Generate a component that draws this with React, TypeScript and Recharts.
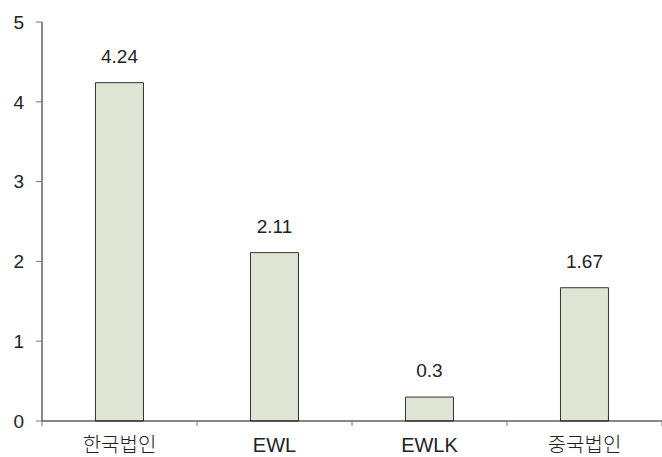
import { Bar, BarChart, LabelList, XAxis, YAxis } from "recharts";

const categories = ["한국법인", "EWL", "EWLK", "중국법인"];
const values = [4.24, 2.11, 0.3, 1.67];
const yTicks = [0, 1, 2, 3, 4, 5];

const FONT = '"Liberation Sans", "Noto Sans CJK KR", Arial, sans-serif';

const data = categories.map((name, i) => ({ name, value: values[i] }));

// category labels plus a short tick mark on the left edge of each band
function CategoryTick(props: any) {
  const { x, y, payload, index, width, visibleTicksCount } = props;
  const band = width / visibleTicksCount;
  const left = x - band / 2;
  return (
    <g>
      <line x1={left} y1={y} x2={left} y2={y + 5} stroke="#777" />
      {index === visibleTicksCount - 1 && (
        <line x1={x + band / 2} y1={y} x2={x + band / 2} y2={y + 5} stroke="#777" />
      )}
      <text
        x={x}
        y={y + 31}
        textAnchor="middle"
        fontSize={20}
        fontWeight={300}
        fill="#222"
        fontFamily={FONT}
      >
        {payload.value}
      </text>
    </g>
  );
}

export default function App() {
  return (
    <div style={{ position: "absolute", left: 0, top: 0, background: "#fff" }}>
      <BarChart
        width={662}
        height={457}
        data={data}
        margin={{ top: 22, right: 0, bottom: 0, left: 0 }}
        barCategoryGap="34.5%"
      >
        <XAxis
          dataKey="name"
          height={36}
          tickSize={0}
          tickMargin={0}
          tick={<CategoryTick />}
          axisLine={{ stroke: "#111" }}
          interval={0}
        />
        <YAxis
          width={42}
          domain={[0, 5]}
          ticks={yTicks}
          tickSize={6}
          tickMargin={12}
          axisLine={{ stroke: "#111" }}
          tickLine={{ stroke: "#777" }}
          tick={{ fontSize: 19, fill: "#222", fontFamily: FONT }}
        />
        <Bar dataKey="value" fill="#dfe5d4" stroke="#333" strokeWidth={1} isAnimationActive={false}>
          <LabelList
            dataKey="value"
            position="top"
            offset={20}
            style={{ fontSize: 19, fill: "#222", fontFamily: FONT }}
          />
        </Bar>
      </BarChart>
    </div>
  );
}
